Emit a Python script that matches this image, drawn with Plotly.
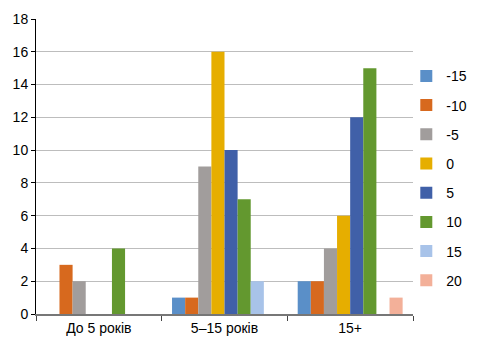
import plotly.graph_objects as go

categories = ["До 5 років", "5–15 років", "15+"]
series_names = ["-15", "-10", "-5", "0", "5", "10", "15", "20"]
values = {
    "-15": [0, 1, 2],
    "-10": [3, 1, 2],
    "-5": [2, 9, 4],
    "0": [0, 16, 6],
    "5": [0, 10, 12],
    "10": [4, 7, 15],
    "15": [0, 2, 0],
    "20": [0, 0, 1],
}
colors = ["#5A8FC8", "#D7691E", "#A19D9C", "#E6AE00", "#4060A8", "#63982F", "#A8C3E9", "#F3B099"]
y_ticks = [0, 2, 4, 6, 8, 10, 12, 14, 16, 18]

FONT = "Liberation Sans, Arial, sans-serif"

fig = go.Figure()
for name, col in zip(series_names, colors):
    fig.add_trace(go.Bar(
        x=categories, y=values[name], name=name,
        marker=dict(color=col, line=dict(width=0)),
        legendgroup=name,
    ))

fig.update_layout(
    width=478, height=354,
    margin=dict(l=36, r=65, t=19, b=40, autoexpand=False),
    paper_bgcolor="white", plot_bgcolor="white",
    barmode="group", bargap=0.165, bargroupgap=0,
    font=dict(family=FONT, size=14, color="#000"),
    showlegend=True,
    legend=dict(xref="container", x=0.85, xanchor="left", y=0.86, yanchor="top",
                font=dict(family=FONT, size=14, color="#000"),
                traceorder="grouped", tracegroupgap=8, itemwidth=30,
                bgcolor="rgba(0,0,0,0)"),
    xaxis=dict(type="category", tickson="boundaries", ticks="outside", ticklen=5,
               tickcolor="#444", showline=True, linecolor="#777", linewidth=1.5,
               showgrid=False, tickfont=dict(family=FONT, size=14)),
    yaxis=dict(range=[0, 18], tickvals=y_ticks, ticks="outside", ticklen=4,
               tickcolor="#000", showline=True, linecolor="#000", linewidth=1,
               showgrid=True, gridcolor="#BDBDBD", gridwidth=1.3,
               zeroline=False, tickfont=dict(family=FONT, size=14)),
)

fig.write_html("out.html")
